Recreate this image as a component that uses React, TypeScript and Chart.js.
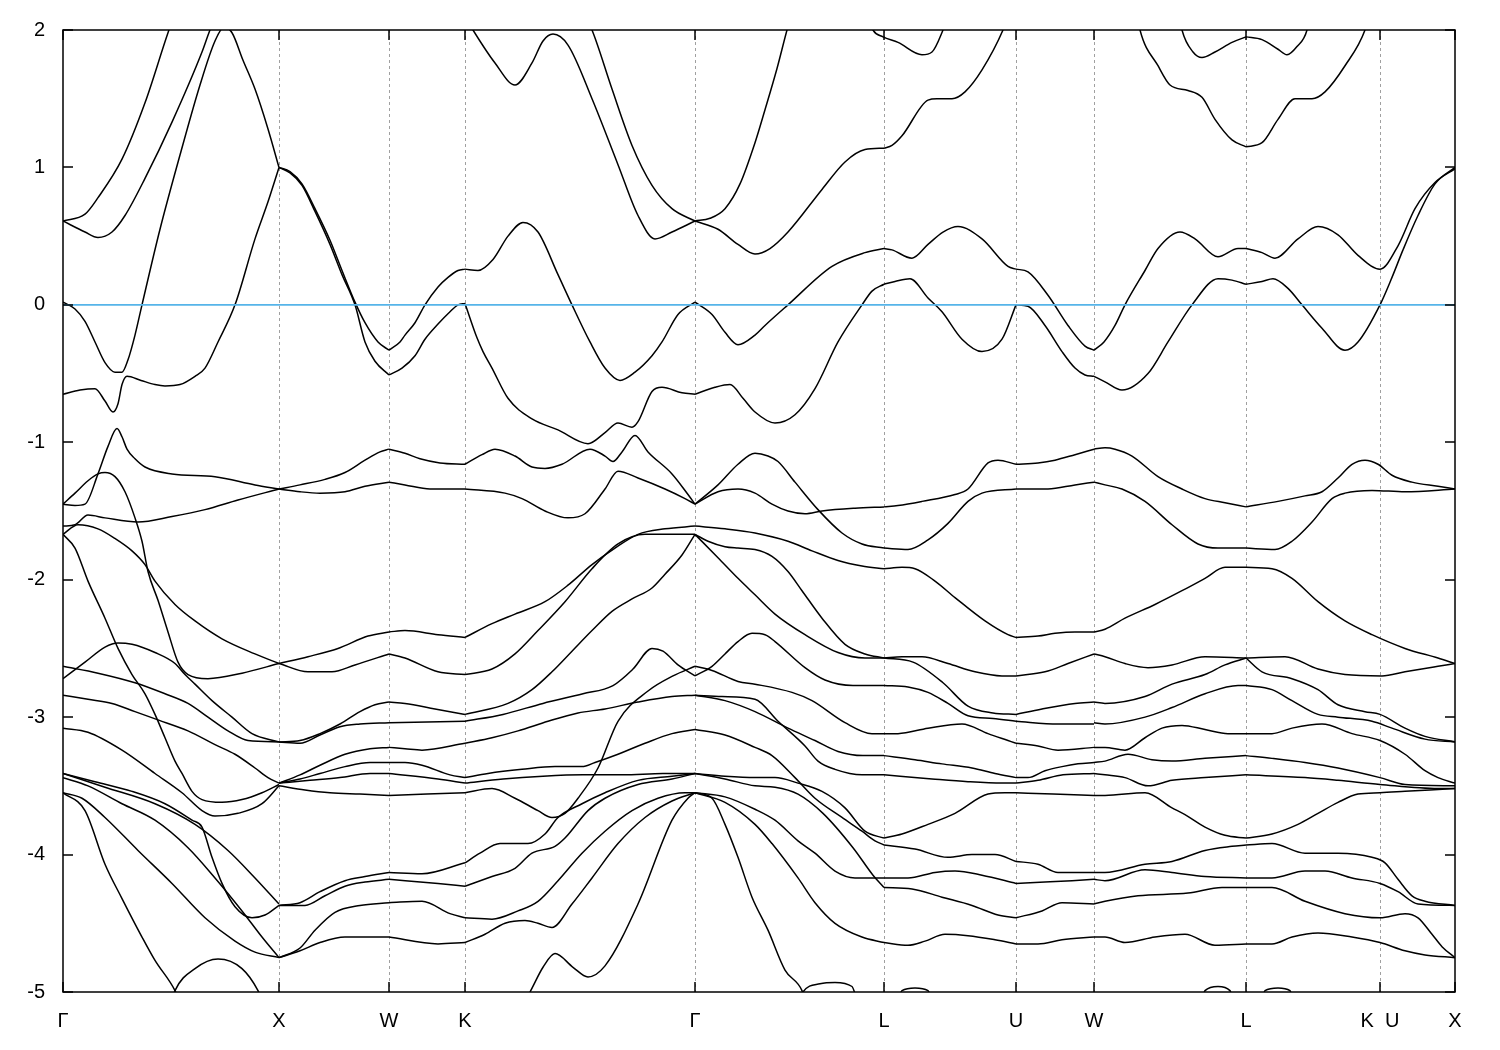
import React, { useEffect, useRef } from 'react';
import { Chart, registerables } from 'chart.js';

Chart.register(...registerables);

type Pt = [number, number];

// k-path positions (arbitrary path units) and labels
const kTicks = [0, 216, 326, 402, 632, 821, 953, 1031, 1183, 1317, 1392];
const kLabels = ['Γ', 'X', 'W', 'K', 'Γ', 'L', 'U', 'W', 'L', 'K  U', 'X'];
const energyMin = -5;
const energyMax = 2;
const fermiEnergy = 0;

// Γ → X
const bandsGX: Pt[][] = [
  [[0, 0.61], [22, 0.66], [35, 0.78], [59, 1.06], [82, 1.47], [105, 1.98], [112, 2.12]],
  [[0, 0.61], [22, 0.53], [35, 0.49], [49, 0.53], [62, 0.65], [82, 0.92], [109, 1.33], [139, 1.84], [147, 2.0], [152, 2.08]],
  [[0, 0.02], [12, -0.03], [22, -0.12], [32, -0.27], [42, -0.42], [52, -0.49], [59, -0.49], [65, -0.4], [72, -0.22], [79, 0.0], [97, 0.55], [117, 1.09], [137, 1.6], [152, 1.92], [161, 2.02], [169, 1.98], [180, 1.78], [192, 1.57], [205, 1.28], [216, 1.0]],
  [[0, -0.65], [17, -0.62], [32, -0.61], [42, -0.7], [50, -0.78], [55, -0.72], [59, -0.58], [64, -0.52], [78, -0.55], [92, -0.58], [102, -0.59], [117, -0.58], [132, -0.52], [142, -0.46], [155, -0.27], [172, 0.0], [192, 0.48], [205, 0.75], [216, 1.0]],
  [[0, -1.45], [12, -1.46], [22, -1.45], [35, -1.23], [45, -1.03], [54, -0.9], [59, -0.96], [64, -1.05], [72, -1.12], [82, -1.18], [109, -1.23], [152, -1.25], [192, -1.31], [216, -1.34]],
  [[0, -1.45], [12, -1.37], [25, -1.28], [35, -1.23], [42, -1.22], [52, -1.25], [62, -1.36], [72, -1.55], [79, -1.72], [85, -1.94], [95, -2.15], [105, -2.38], [115, -2.6], [125, -2.69], [145, -2.72], [179, -2.68], [216, -2.61]],
  [[0, -1.61], [12, -1.6], [25, -1.53], [42, -1.55], [75, -1.58], [109, -1.54], [142, -1.49], [175, -1.42], [216, -1.34]],
  [[0, -1.67], [15, -1.6], [35, -1.63], [52, -1.7], [69, -1.79], [82, -1.89], [92, -2.01], [112, -2.18], [132, -2.3], [159, -2.43], [192, -2.54], [216, -2.61]],
  [[0, -1.67], [12, -1.77], [25, -2.01], [42, -2.28], [55, -2.5], [69, -2.69], [82, -2.83], [92, -2.98], [102, -3.15], [112, -3.32], [119, -3.41], [129, -3.54], [139, -3.6], [159, -3.62], [179, -3.6], [199, -3.55], [216, -3.49]],
  [[0, -2.72], [22, -2.6], [42, -2.49], [55, -2.46], [69, -2.47], [92, -2.53], [112, -2.61], [122, -2.69], [132, -2.76], [149, -2.88], [169, -3.0], [189, -3.12], [216, -3.18]],
  [[0, -2.63], [35, -2.68], [72, -2.75], [102, -2.83], [125, -2.9], [145, -3.0], [165, -3.1], [185, -3.17], [216, -3.18]],
  [[0, -2.84], [25, -2.87], [49, -2.9], [72, -2.96], [95, -3.02], [125, -3.1], [152, -3.2], [172, -3.27], [192, -3.37], [205, -3.44], [216, -3.48]],
  [[0, -3.08], [25, -3.11], [59, -3.24], [92, -3.41], [119, -3.55], [139, -3.68], [152, -3.72], [175, -3.7], [199, -3.63], [216, -3.5]],
  [[0, -3.41], [32, -3.47], [69, -3.54], [102, -3.63], [129, -3.75], [139, -3.8], [149, -4.02], [159, -4.21], [172, -4.38], [189, -4.46], [202, -4.44], [216, -4.37]],
  [[0, -3.41], [42, -3.51], [92, -3.63], [132, -3.78], [165, -3.97], [192, -4.17], [216, -4.36]],
  [[0, -3.44], [25, -3.5], [59, -3.63], [92, -3.75], [125, -3.95], [152, -4.17], [179, -4.41], [199, -4.6], [216, -4.75]],
  [[0, -3.55], [19, -3.59], [42, -3.73], [75, -3.97], [109, -4.21], [142, -4.46], [172, -4.63], [192, -4.71], [216, -4.75]],
  [[0, -3.55], [22, -3.68], [42, -4.07], [59, -4.32], [79, -4.6], [92, -4.77], [112, -4.99], [116, -5.06]],
  [[109, -5.06], [112, -4.99], [132, -4.83], [155, -4.76], [179, -4.83], [195, -4.99], [199, -5.06]],
];

// X → W
const bandsXW: Pt[][] = [
  [[216, 1.0], [227, 0.97], [239, 0.88], [252, 0.7], [267, 0.47], [279, 0.25], [292, 0.02], [302, -0.13], [315, -0.27], [326, -0.33]],
  [[216, 1.0], [227, 0.96], [239, 0.87], [252, 0.68], [267, 0.44], [279, 0.22], [292, 0.0], [302, -0.27], [312, -0.41], [326, -0.51]],
  [[216, -1.34], [237, -1.31], [262, -1.27], [282, -1.22], [302, -1.13], [317, -1.07], [326, -1.05]],
  [[216, -1.34], [237, -1.36], [257, -1.37], [282, -1.36], [302, -1.32], [326, -1.29]],
  [[216, -2.61], [245, -2.56], [275, -2.5], [305, -2.41], [326, -2.38]],
  [[216, -2.61], [245, -2.67], [269, -2.67], [292, -2.62], [326, -2.54]],
  [[216, -3.18], [237, -3.17], [257, -3.12], [277, -3.05], [297, -2.96], [312, -2.91], [326, -2.89]],
  [[216, -3.18], [237, -3.19], [257, -3.13], [277, -3.07], [297, -3.05], [326, -3.04]],
  [[216, -3.48], [237, -3.42], [257, -3.35], [282, -3.27], [307, -3.23], [326, -3.22]],
  [[216, -3.48], [237, -3.45], [257, -3.41], [282, -3.36], [307, -3.33], [326, -3.33]],
  [[216, -3.48], [247, -3.46], [277, -3.44], [307, -3.41], [326, -3.41]],
  [[216, -3.5], [242, -3.53], [267, -3.55], [297, -3.56], [326, -3.57]],
  [[216, -4.37], [237, -4.35], [257, -4.27], [282, -4.19], [302, -4.16], [326, -4.13]],
  [[216, -4.37], [242, -4.37], [262, -4.3], [282, -4.23], [302, -4.2], [326, -4.18]],
  [[216, -4.75], [237, -4.68], [252, -4.55], [272, -4.42], [297, -4.37], [326, -4.35]],
  [[216, -4.75], [237, -4.7], [257, -4.64], [282, -4.6], [326, -4.6]],
];

// W → K
const bandsWK: Pt[][] = [
  [[326, -0.33], [337, -0.27], [342, -0.22], [352, -0.13], [362, 0.0], [375, 0.13], [385, 0.2], [395, 0.25], [402, 0.26]],
  [[326, -0.51], [339, -0.46], [352, -0.37], [362, -0.25], [375, -0.14], [387, -0.05], [395, 0.0], [402, 0.01]],
  [[326, -1.05], [342, -1.08], [357, -1.12], [377, -1.15], [402, -1.16]],
  [[326, -1.29], [342, -1.31], [367, -1.34], [402, -1.34]],
  [[326, -2.38], [342, -2.37], [375, -2.4], [402, -2.42]],
  [[326, -2.54], [342, -2.57], [375, -2.67], [402, -2.69]],
  [[326, -2.89], [342, -2.9], [372, -2.94], [402, -2.98]],
  [[326, -3.04], [402, -3.03]],
  [[326, -3.22], [342, -3.23], [359, -3.24], [402, -3.19]],
  [[326, -3.33], [342, -3.33], [359, -3.35], [387, -3.42], [402, -3.44]],
  [[326, -3.41], [375, -3.45], [402, -3.48]],
  [[326, -3.57], [402, -3.55]],
  [[326, -4.13], [359, -4.14], [402, -4.06]],
  [[326, -4.18], [375, -4.21], [402, -4.23]],
  [[326, -4.35], [359, -4.34], [387, -4.43], [402, -4.46]],
  [[326, -4.6], [375, -4.65], [402, -4.64]],
];

// K → Γ
const bandsKG: Pt[][] = [
  [[402, 2.1], [410, 2.0], [432, 1.76], [452, 1.6], [469, 1.76], [480, 1.92], [490, 1.97], [505, 1.89], [529, 1.5], [555, 1.02], [575, 0.65], [592, 0.48], [609, 0.53], [632, 0.61]],
  [[522, 2.1], [529, 2.0], [549, 1.57], [569, 1.16], [589, 0.87], [609, 0.7], [632, 0.61]],
  [[402, 0.26], [415, 0.25], [430, 0.33], [445, 0.5], [460, 0.6], [475, 0.53], [495, 0.22], [509, 0.0], [527, -0.27], [542, -0.46], [557, -0.55], [572, -0.49], [589, -0.37], [599, -0.27], [615, -0.07], [632, 0.02]],
  [[402, 0.01], [414, -0.24], [420, -0.34], [429, -0.46], [445, -0.68], [469, -0.83], [495, -0.91], [525, -1.01], [542, -0.93], [555, -0.86], [569, -0.89], [575, -0.85], [589, -0.63], [599, -0.6], [619, -0.64], [632, -0.65]],
  [[402, -1.16], [419, -1.09], [432, -1.05], [452, -1.1], [469, -1.18], [482, -1.19], [499, -1.16], [527, -1.05], [542, -1.1], [550, -1.14], [559, -1.07], [572, -0.95], [585, -1.07], [609, -1.23], [625, -1.38], [632, -1.45]],
  [[402, -1.34], [442, -1.37], [459, -1.41], [482, -1.5], [505, -1.55], [522, -1.52], [542, -1.34], [555, -1.21], [575, -1.26], [602, -1.34], [622, -1.41], [632, -1.45]],
  [[402, -2.42], [429, -2.32], [452, -2.25], [482, -2.16], [505, -2.04], [529, -1.89], [552, -1.77], [575, -1.67], [602, -1.63], [632, -1.61]],
  [[402, -2.69], [429, -2.65], [452, -2.54], [475, -2.37], [502, -2.16], [529, -1.92], [555, -1.74], [582, -1.67], [632, -1.67]],
  [[402, -2.98], [445, -2.9], [469, -2.8], [489, -2.67], [509, -2.52], [529, -2.37], [549, -2.23], [569, -2.14], [589, -2.06], [602, -1.96], [619, -1.82], [632, -1.67]],
  [[402, -3.03], [440, -2.98], [480, -2.9], [520, -2.83], [550, -2.77], [570, -2.65], [589, -2.5], [600, -2.52], [615, -2.62], [632, -2.7]],
  [[402, -3.19], [429, -3.15], [455, -3.1], [485, -3.03], [515, -2.97], [542, -2.94], [575, -2.89], [609, -2.85], [632, -2.84]],
  [[402, -3.44], [425, -3.41], [459, -3.38], [492, -3.36], [519, -3.36], [532, -3.33], [555, -3.27], [582, -3.19], [609, -3.12], [632, -3.09]],
  [[402, -3.48], [440, -3.45], [480, -3.43], [520, -3.42], [560, -3.42], [600, -3.41], [632, -3.41]],
  [[402, -3.55], [429, -3.52], [452, -3.59], [475, -3.68], [489, -3.73], [502, -3.7], [515, -3.59], [535, -3.37], [555, -3.03], [585, -2.81], [610, -2.7], [632, -2.63]],
  [[402, -4.06], [417, -3.99], [437, -3.92], [465, -3.92], [482, -3.85], [495, -3.73], [519, -3.63], [542, -3.55], [575, -3.46], [609, -3.43], [632, -3.41]],
  [[402, -4.23], [429, -4.16], [452, -4.1], [469, -3.99], [492, -3.94], [502, -3.88], [525, -3.68], [542, -3.59], [575, -3.49], [609, -3.45], [632, -3.41]],
  [[402, -4.46], [429, -4.47], [455, -4.41], [475, -4.34], [495, -4.19], [519, -3.99], [542, -3.83], [569, -3.68], [595, -3.59], [622, -3.55], [632, -3.55]],
  [[402, -4.64], [422, -4.58], [442, -4.5], [462, -4.48], [475, -4.5], [489, -4.53], [509, -4.36], [529, -4.17], [555, -3.92], [582, -3.73], [609, -3.61], [632, -3.55]],
  [[462, -5.06], [467, -5.0], [480, -4.82], [492, -4.72], [510, -4.82], [525, -4.89], [542, -4.81], [575, -4.36], [609, -3.75], [625, -3.59], [632, -3.55]],
];

// Γ → L
const bandsGL: Pt[][] = [
  [[632, 0.61], [647, 0.63], [662, 0.7], [677, 0.88], [692, 1.18], [702, 1.42], [714, 1.72], [724, 2.0], [728, 2.1]],
  [[632, 0.61], [655, 0.55], [675, 0.44], [692, 0.37], [707, 0.41], [725, 0.53], [759, 0.84], [782, 1.04], [802, 1.13], [821, 1.14]],
  [[632, 0.02], [649, -0.07], [662, -0.2], [675, -0.29], [692, -0.22], [702, -0.15], [725, 0.0], [769, 0.28], [802, 0.38], [821, 0.41]],
  [[632, -0.65], [652, -0.6], [667, -0.58], [680, -0.68], [692, -0.78], [712, -0.86], [732, -0.8], [752, -0.61], [775, -0.27], [799, 0.0], [809, 0.1], [821, 0.15]],
  [[632, -1.45], [655, -1.31], [675, -1.16], [692, -1.08], [705, -1.1], [715, -1.14], [732, -1.29], [755, -1.49], [779, -1.66], [799, -1.74], [821, -1.77]],
  [[632, -1.45], [655, -1.36], [675, -1.34], [692, -1.37], [709, -1.45], [725, -1.5], [742, -1.52], [759, -1.5], [792, -1.48], [821, -1.47]],
  [[632, -1.61], [662, -1.63], [692, -1.66], [725, -1.72], [749, -1.79], [775, -1.86], [799, -1.9], [821, -1.92]],
  [[632, -1.67], [645, -1.72], [662, -1.76], [675, -1.77], [692, -1.78], [709, -1.83], [725, -1.94], [739, -2.08], [759, -2.28], [782, -2.47], [802, -2.54], [821, -2.57]],
  [[632, -1.67], [655, -1.84], [675, -1.99], [692, -2.11], [712, -2.25], [742, -2.4], [775, -2.53], [802, -2.57], [821, -2.57]],
  [[632, -2.7], [649, -2.63], [662, -2.54], [675, -2.45], [689, -2.39], [702, -2.4], [712, -2.45], [742, -2.64], [762, -2.73], [790, -2.77], [821, -2.77]],
  [[632, -2.63], [649, -2.66], [675, -2.74], [692, -2.76], [729, -2.82], [749, -2.88], [782, -3.04], [809, -3.12], [821, -3.12]],
  [[632, -2.84], [659, -2.85], [692, -2.87], [715, -3.03], [742, -3.21], [755, -3.32], [772, -3.38], [799, -3.42], [821, -3.42]],
  [[632, -2.84], [662, -2.88], [692, -2.96], [725, -3.08], [752, -3.17], [775, -3.25], [800, -3.28], [821, -3.28]],
  [[632, -3.09], [662, -3.13], [692, -3.22], [709, -3.28], [732, -3.44], [752, -3.59], [779, -3.73], [799, -3.83], [812, -3.9], [821, -3.93]],
  [[632, -3.41], [662, -3.43], [692, -3.44], [712, -3.44], [735, -3.48], [759, -3.54], [782, -3.66], [802, -3.83], [821, -3.88]],
  [[632, -3.41], [662, -3.45], [692, -3.5], [712, -3.51], [735, -3.56], [760, -3.7], [790, -3.95], [810, -4.15], [821, -4.24]],
  [[632, -3.55], [662, -3.58], [692, -3.67], [712, -3.75], [735, -3.9], [752, -3.99], [772, -4.12], [792, -4.17], [821, -4.17]],
  [[632, -3.55], [662, -3.62], [692, -3.78], [709, -3.92], [735, -4.17], [752, -4.35], [772, -4.5], [799, -4.6], [821, -4.64]],
  [[632, -3.55], [649, -3.59], [662, -3.78], [675, -4.02], [689, -4.31], [705, -4.55], [722, -4.84], [739, -4.99], [742, -5.06]],
  [[737, -5.06], [740, -5.0], [757, -4.94], [772, -4.93], [789, -4.96], [794, -5.06]],
];

// L → U
const bandsLU: Pt[][] = [
  [[806, 2.08], [810, 2.0], [820, 1.95], [835, 1.91], [859, 1.82], [869, 1.84], [880, 2.0], [883, 2.06]],
  [[821, 1.14], [829, 1.16], [839, 1.23], [865, 1.49], [874, 1.5], [889, 1.5], [902, 1.55], [919, 1.71], [940, 2.0], [944, 2.08]],
  [[821, 0.41], [829, 0.4], [849, 0.34], [865, 0.44], [880, 0.53], [895, 0.57], [919, 0.48], [945, 0.28], [953, 0.26]],
  [[821, 0.15], [832, 0.17], [847, 0.19], [865, 0.05], [879, -0.05], [899, -0.25], [919, -0.34], [939, -0.25], [953, 0.0]],
  [[821, -1.77], [845, -1.78], [865, -1.71], [885, -1.59], [905, -1.43], [919, -1.37], [953, -1.34]],
  [[821, -1.47], [835, -1.46], [859, -1.43], [892, -1.38], [905, -1.34], [925, -1.15], [935, -1.13], [953, -1.16]],
  [[821, -1.92], [839, -1.91], [852, -1.92], [872, -2.01], [892, -2.13], [922, -2.3], [945, -2.4], [953, -2.42]],
  [[821, -2.57], [839, -2.56], [859, -2.56], [885, -2.61], [912, -2.67], [939, -2.7], [953, -2.7]],
  [[821, -2.57], [850, -2.6], [880, -2.75], [905, -2.92], [930, -2.97], [953, -2.98]],
  [[821, -2.77], [845, -2.78], [865, -2.82], [885, -2.9], [905, -2.99], [930, -3.01], [953, -3.03]],
  [[821, -3.12], [835, -3.12], [865, -3.08], [899, -3.05], [925, -3.12], [945, -3.17], [953, -3.19]],
  [[821, -3.28], [852, -3.31], [879, -3.34], [909, -3.37], [932, -3.41], [953, -3.44]],
  [[821, -3.42], [869, -3.45], [905, -3.47], [939, -3.48], [953, -3.48]],
  [[821, -3.88], [839, -3.85], [865, -3.78], [892, -3.7], [925, -3.56], [942, -3.55], [953, -3.55]],
  [[821, -3.93], [852, -3.96], [885, -4.02], [909, -4.0], [932, -4.0], [953, -4.05]],
  [[821, -4.17], [845, -4.17], [872, -4.13], [892, -4.12], [919, -4.15], [953, -4.21]],
  [[821, -4.24], [849, -4.25], [879, -4.31], [909, -4.37], [935, -4.44], [953, -4.46]],
  [[821, -4.64], [845, -4.66], [862, -4.63], [882, -4.58], [905, -4.59], [932, -4.62], [953, -4.65]],
  [[835, -5.06], [839, -4.99], [852, -4.97], [865, -4.99], [869, -5.06]],
];

// U → W
const bandsUW: Pt[][] = [
  [[953, 0.26], [965, 0.24], [985, 0.07], [1005, -0.15], [1022, -0.3], [1031, -0.33]],
  [[953, 0.0], [965, -0.01], [982, -0.15], [999, -0.34], [1012, -0.46], [1022, -0.51], [1031, -0.52]],
  [[953, -1.16], [975, -1.15], [992, -1.13], [1012, -1.09], [1031, -1.05]],
  [[953, -1.34], [985, -1.34], [1012, -1.31], [1031, -1.29]],
  [[953, -2.42], [975, -2.41], [992, -2.39], [1012, -2.38], [1031, -2.38]],
  [[953, -2.7], [982, -2.67], [1005, -2.61], [1031, -2.54]],
  [[953, -2.98], [979, -2.94], [1012, -2.9], [1031, -2.89]],
  [[953, -3.03], [995, -3.05], [1031, -3.05]],
  [[953, -3.19], [975, -3.21], [995, -3.24], [1031, -3.22]],
  [[953, -3.44], [965, -3.44], [982, -3.39], [999, -3.36], [1015, -3.34], [1031, -3.33]],
  [[953, -3.48], [975, -3.46], [1000, -3.42], [1031, -3.41]],
  [[953, -3.55], [990, -3.56], [1031, -3.57]],
  [[953, -4.05], [975, -4.07], [995, -4.13], [1031, -4.13]],
  [[953, -4.21], [982, -4.2], [1009, -4.19], [1031, -4.18]],
  [[953, -4.46], [979, -4.41], [999, -4.35], [1031, -4.36]],
  [[953, -4.65], [975, -4.65], [999, -4.62], [1031, -4.6]],
];

// W → L
const bandsWL: Pt[][] = [
  [[1075, 2.08], [1077, 2.0], [1095, 1.74], [1107, 1.6], [1125, 1.56], [1139, 1.51], [1152, 1.35], [1169, 1.2], [1183, 1.15]],
  [[1117, 2.08], [1119, 2.0], [1130, 1.84], [1139, 1.8], [1152, 1.84], [1169, 1.91], [1183, 1.95]],
  [[1031, -0.33], [1041, -0.27], [1052, -0.15], [1062, 0.0], [1082, 0.25], [1095, 0.41], [1117, 0.53], [1132, 0.48], [1155, 0.35], [1175, 0.41], [1183, 0.41]],
  [[1031, -0.52], [1042, -0.56], [1059, -0.62], [1085, -0.5], [1105, -0.27], [1129, 0.0], [1155, 0.19], [1169, 0.18], [1183, 0.15]],
  [[1031, -1.05], [1042, -1.04], [1052, -1.05], [1069, -1.1], [1095, -1.25], [1119, -1.34], [1142, -1.41], [1162, -1.44], [1183, -1.47]],
  [[1031, -1.29], [1042, -1.31], [1059, -1.34], [1082, -1.43], [1109, -1.6], [1135, -1.74], [1155, -1.77], [1183, -1.77]],
  [[1031, -2.38], [1042, -2.36], [1062, -2.28], [1092, -2.18], [1119, -2.08], [1142, -1.99], [1162, -1.91], [1183, -1.91]],
  [[1031, -2.54], [1042, -2.56], [1062, -2.61], [1085, -2.64], [1109, -2.62], [1142, -2.56], [1183, -2.57]],
  [[1031, -2.89], [1042, -2.9], [1082, -2.85], [1109, -2.76], [1142, -2.69], [1162, -2.62], [1183, -2.57]],
  [[1031, -3.04], [1042, -3.05], [1082, -3.0], [1109, -2.93], [1142, -2.83], [1175, -2.77], [1183, -2.77]],
  [[1031, -3.22], [1042, -3.22], [1062, -3.24], [1082, -3.15], [1099, -3.08], [1119, -3.06], [1142, -3.09], [1165, -3.12], [1183, -3.12]],
  [[1031, -3.33], [1042, -3.32], [1065, -3.27], [1089, -3.31], [1109, -3.32], [1142, -3.3], [1183, -3.28]],
  [[1031, -3.41], [1042, -3.42], [1062, -3.44], [1085, -3.5], [1109, -3.46], [1142, -3.44], [1183, -3.42]],
  [[1031, -3.57], [1042, -3.57], [1082, -3.55], [1109, -3.66], [1122, -3.71], [1142, -3.8], [1162, -3.86], [1183, -3.88]],
  [[1031, -4.13], [1042, -4.13], [1082, -4.07], [1109, -4.05], [1142, -3.97], [1169, -3.94], [1183, -3.93]],
  [[1031, -4.18], [1042, -4.19], [1082, -4.11], [1109, -4.13], [1142, -4.16], [1183, -4.17]],
  [[1031, -4.36], [1042, -4.34], [1075, -4.3], [1125, -4.28], [1159, -4.24], [1183, -4.24]],
  [[1031, -4.6], [1042, -4.6], [1062, -4.64], [1092, -4.6], [1122, -4.58], [1152, -4.66], [1183, -4.65]],
  [[1139, -5.06], [1142, -4.99], [1155, -4.96], [1167, -4.99], [1170, -5.06]],
];

// L → K|U → X
const bandsLX: Pt[][] = [
  [[1183, 1.15], [1199, 1.18], [1215, 1.35], [1232, 1.5], [1249, 1.5], [1262, 1.55], [1282, 1.74], [1302, 2.0], [1305, 2.08]],
  [[1183, 1.95], [1199, 1.93], [1215, 1.86], [1224, 1.82], [1234, 1.88], [1244, 2.0], [1246, 2.08]],
  [[1183, 0.41], [1199, 0.38], [1212, 0.34], [1235, 0.48], [1255, 0.57], [1275, 0.51], [1295, 0.36], [1317, 0.26], [1335, 0.43], [1352, 0.7], [1372, 0.89], [1392, 0.99]],
  [[1183, 0.15], [1199, 0.17], [1210, 0.19], [1225, 0.12], [1239, 0.0], [1259, -0.17], [1282, -0.33], [1295, -0.27], [1317, 0.0], [1329, 0.2], [1340, 0.4], [1355, 0.65], [1372, 0.88], [1392, 1.0]],
  [[1199, -5.06], [1202, -4.99], [1215, -4.97], [1227, -4.99], [1230, -5.06]],
  [[1183, -1.47], [1215, -1.43], [1242, -1.39], [1259, -1.36], [1275, -1.26], [1289, -1.16], [1302, -1.13], [1315, -1.16], [1329, -1.24], [1349, -1.29], [1375, -1.32], [1392, -1.34]],
  [[1183, -1.77], [1212, -1.78], [1229, -1.72], [1249, -1.58], [1269, -1.41], [1282, -1.37], [1309, -1.35], [1342, -1.36], [1392, -1.34]],
  [[1183, -1.91], [1209, -1.92], [1229, -1.99], [1255, -2.16], [1282, -2.3], [1309, -2.4], [1342, -2.5], [1375, -2.57], [1392, -2.61]],
  [[1183, -2.57], [1222, -2.56], [1255, -2.65], [1282, -2.69], [1319, -2.7], [1342, -2.67], [1375, -2.63], [1392, -2.61]],
  [[1183, -2.57], [1199, -2.67], [1229, -2.72], [1255, -2.8], [1275, -2.91], [1302, -2.96], [1317, -2.98], [1342, -3.08], [1362, -3.14], [1392, -3.18]],
  [[1183, -2.77], [1209, -2.8], [1229, -2.88], [1255, -2.98], [1275, -3.0], [1309, -3.03], [1329, -3.08], [1362, -3.16], [1392, -3.18]],
  [[1183, -3.12], [1209, -3.12], [1229, -3.08], [1259, -3.05], [1289, -3.12], [1317, -3.17], [1342, -3.27], [1362, -3.39], [1375, -3.44], [1392, -3.48]],
  [[1183, -3.28], [1209, -3.3], [1242, -3.33], [1275, -3.37], [1317, -3.44], [1342, -3.49], [1392, -3.5]],
  [[1183, -3.42], [1242, -3.44], [1275, -3.46], [1317, -3.49], [1375, -3.52], [1392, -3.52]],
  [[1183, -3.88], [1209, -3.85], [1235, -3.78], [1255, -3.7], [1275, -3.62], [1295, -3.56], [1317, -3.55], [1342, -3.54], [1392, -3.52]],
  [[1183, -3.93], [1209, -3.92], [1242, -3.99], [1275, -3.99], [1309, -4.02], [1322, -4.06], [1335, -4.18], [1349, -4.3], [1362, -4.34], [1392, -4.37]],
  [[1183, -4.17], [1209, -4.17], [1242, -4.12], [1262, -4.12], [1289, -4.17], [1317, -4.21], [1335, -4.27], [1355, -4.36], [1392, -4.37]],
  [[1183, -4.24], [1209, -4.24], [1242, -4.34], [1282, -4.43], [1317, -4.46], [1342, -4.43], [1355, -4.46], [1369, -4.58], [1379, -4.67], [1392, -4.75]],
  [[1183, -4.65], [1209, -4.65], [1229, -4.6], [1255, -4.57], [1289, -4.6], [1317, -4.64], [1342, -4.7], [1362, -4.73], [1392, -4.75]],
];

const allBands: Pt[][] = [
  ...bandsGX, ...bandsXW, ...bandsWK, ...bandsKG, ...bandsGL,
  ...bandsLU, ...bandsUW, ...bandsWL, ...bandsLX,
];

const FONT = "'Liberation Sans', Arial, Helvetica, sans-serif";

export default function App() {
  const ref = useRef<HTMLCanvasElement>(null);

  useEffect(() => {
    const canvas = ref.current;
    if (!canvas) return;

    const framePlugin = {
      id: 'bandFrame',
      beforeDatasetsDraw(chart: any) {
        const { ctx, chartArea: a, scales } = chart;
        const x = scales.x;
        ctx.save();
        ctx.strokeStyle = '#a0a0a0';
        ctx.lineWidth = 1;
        ctx.setLineDash([3, 3]);
        for (const k of kTicks.slice(1, -1)) {
          const px = Math.round(x.getPixelForValue(k)) + 0.5;
          ctx.beginPath();
          ctx.moveTo(px, a.top);
          ctx.lineTo(px, a.bottom);
          ctx.stroke();
        }
        ctx.restore();
      },
      afterDatasetsDraw(chart: any) {
        const { ctx, chartArea: a, scales } = chart;
        const x = scales.x;
        const y = scales.y;
        ctx.save();
        ctx.strokeStyle = '#000';
        ctx.lineWidth = 1.5;
        ctx.setLineDash([]);
        ctx.strokeRect(a.left, a.top, a.right - a.left, a.bottom - a.top);
        const tl = 10;
        ctx.beginPath();
        for (let v = energyMin; v <= energyMax; v++) {
          const py = Math.round(y.getPixelForValue(v));
          ctx.moveTo(a.left, py);
          ctx.lineTo(a.left + tl, py);
          ctx.moveTo(a.right, py);
          ctx.lineTo(a.right - tl, py);
        }
        for (const k of kTicks) {
          const px = Math.round(x.getPixelForValue(k));
          ctx.moveTo(px, a.top);
          ctx.lineTo(px, a.top + tl);
          ctx.moveTo(px, a.bottom);
          ctx.lineTo(px, a.bottom - tl);
        }
        ctx.stroke();
        ctx.restore();
      },
    };

    const datasets: any[] = [
      {
        data: [
          { x: kTicks[0], y: fermiEnergy },
          { x: kTicks[kTicks.length - 1], y: fermiEnergy },
        ],
        showLine: true,
        borderColor: '#56B4E9',
        borderWidth: 1.6,
        pointRadius: 0,
        order: 0,
        clip: 0,
      },
      ...allBands.map((b) => ({
        data: b.map(([k, e]) => ({ x: k, y: e })),
        showLine: true,
        borderColor: '#000000',
        borderWidth: 1.5,
        pointRadius: 0,
        cubicInterpolationMode: 'monotone',
        order: 1,
        clip: 0,
      })),
    ];

    const chart = new Chart(canvas, {
      type: 'scatter',
      data: { datasets },
      options: {
        responsive: false,
        animation: false,
        devicePixelRatio: 1,
        events: [],
        layout: { padding: { top: 28, right: 45, left: 0, bottom: 0 } },
        plugins: { legend: { display: false }, tooltip: { enabled: false } },
        scales: {
          x: {
            type: 'linear',
            min: kTicks[0],
            max: kTicks[kTicks.length - 1],
            afterFit: (s: any) => {
              s.height = 58;
            },
            afterBuildTicks: (s: any) => {
              s.ticks = kTicks.map((v) => ({ value: v }));
            },
            grid: { display: false, drawTicks: false },
            border: { display: false },
            ticks: {
              autoSkip: false,
              maxRotation: 0,
              minRotation: 0,
              padding: 17,
              color: '#000',
              font: { family: FONT, size: 20 },
              callback: (_v: any, i: number) => kLabels[i],
            },
          },
          y: {
            type: 'linear',
            min: energyMin,
            max: energyMax,
            afterFit: (s: any) => {
              s.width = 63;
            },
            grid: { display: false, drawTicks: false },
            border: { display: false },
            ticks: {
              stepSize: 1,
              padding: 18,
              color: '#000',
              font: { family: FONT, size: 20 },
            },
          },
        },
      } as any,
      plugins: [framePlugin],
    });

    return () => chart.destroy();
  }, []);

  return (
    <div style={{ position: 'fixed', left: 0, top: 0, width: 1500, height: 1050, background: '#fff' }}>
      <canvas ref={ref} width={1500} height={1050} style={{ display: 'block', width: 1500, height: 1050 }} />
    </div>
  );
}
